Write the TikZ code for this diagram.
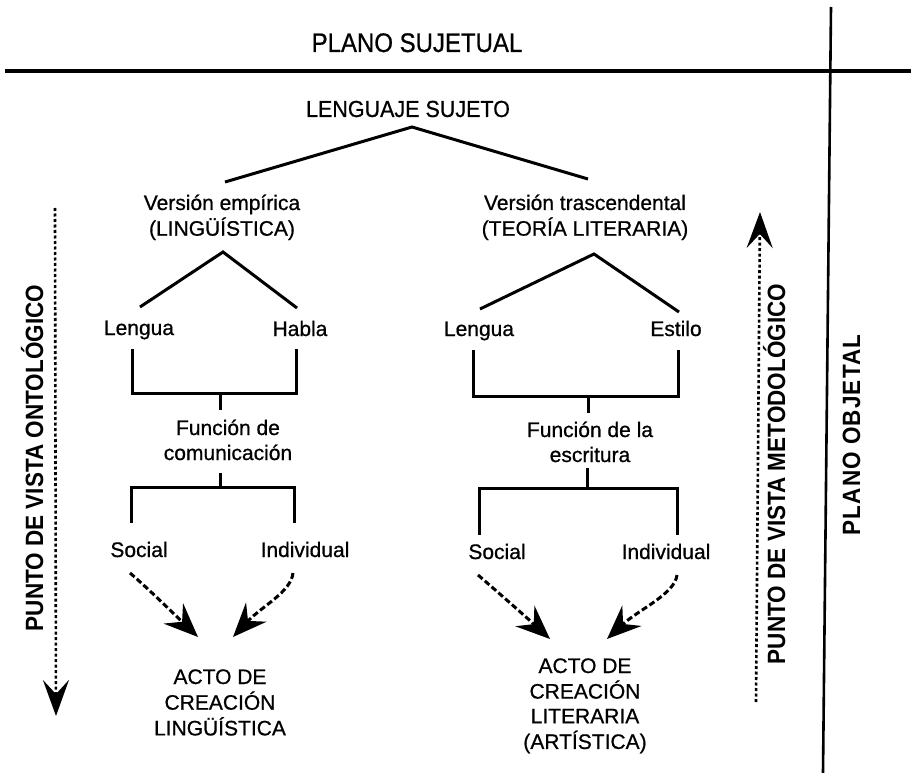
\documentclass[tikz,border=0pt]{standalone}
\usepackage{fontspec}
\setmainfont{Liberation Sans}
\newfontfamily\heavyfont{Liberation Sans}[FakeBold=0.7]
\usetikzlibrary{arrows.meta}
\newcommand{\mlines}[1]{\begin{tabular}[t]{@{}c@{}}#1\end{tabular}}
\begin{document}
\begin{tikzpicture}[x=1pt,y=-1pt,
  txt/.style={font=\heavyfont\fontsize{21}{25}\selectfont, inner sep=0pt, anchor=base},
  title/.style={font=\heavyfont\fontsize{24}{28}\selectfont, inner sep=0pt, anchor=base},
  vtxt/.style={font=\bfseries\fontsize{25}{29}\selectfont, inner sep=0pt, anchor=base, rotate=90},
  rule/.style={line width=3.2pt},
  tree/.style={line width=3pt},
  flow/.style={line width=3pt, dash pattern=on 6pt off 3pt, -{Stealth[length=34pt,width=28pt,inset=12pt]}},
  axis/.style={line width=2.6pt, dash pattern=on 3pt off 2.5pt, -{Stealth[length=36pt,width=26pt,inset=14pt]}}
]
\fill[white] (0,0) rectangle (911,773);
\useasboundingbox (0,0) rectangle (911,773);

% frame rules
\coordinate (hl) at (5,71);
\coordinate (hr) at (911,71);
\coordinate (vtop) at (831,7);
\coordinate (vbot) at (823,773);
\draw[rule] (hl) -- (hr);
\draw[rule, line width=2.6pt] (vtop) -- (vbot);

% texts
\node[title] (ps) at (417,52) {\scalebox{1}[1.12]{PLANO SUJETUAL}};
\node[txt, font=\heavyfont\fontsize{21.5}{25}\selectfont] (ls) at (408,117) {\scalebox{1}[1.08]{LENGUAJE SUJETO}};
\node[txt] (ve) at (222,210) {\mlines{Versión empírica\\(LINGÜÍSTICA)}};
\node[txt] (vt) at (585,210) {\mlines{Versión trascendental\\(TEORÍA LITERARIA)}};
\node[txt] (lenL) at (139,335) {Lengua};
\node[txt] (hab) at (300,336) {Habla};
\node[txt] (lenR) at (479,336) {Lengua};
\node[txt] (est) at (676,336) {Estilo};
\node[txt] (fc) at (228,435) {\mlines{Función de\\comunicación}};
\node[txt] (fe) at (590,437) {\mlines{Función de la\\escritura}};
\node[txt] (socL) at (139,557) {Social};
\node[txt] (indL) at (305,557) {Individual};
\node[txt] (socR) at (497,559) {Social};
\node[txt] (indR) at (666,559) {Individual};
\node[txt] (actL) at (220,684) {\mlines{ACTO DE\\CREACIÓN\\LINGÜÍSTICA}};
\node[txt, font=\heavyfont\fontsize{21}{24.7}\selectfont] (actR) at (585,673) {\mlines{ACTO DE\\CREACIÓN\\LITERARIA\\(ARTÍSTICA)}};

\node[vtxt] (onto) at (43,458) {\scalebox{0.9}[1]{PUNTO DE VISTA ONTOLÓGICO}};
\node[vtxt] (meto) at (785,474) {\scalebox{0.9}[1]{PUNTO DE VISTA METODOLÓGICO}};
\node[vtxt] (pobj) at (860,435) {\scalebox{0.9}[1]{\addfontfeature{LetterSpace=5}PLANO OBJETAL}};

% top tree
\coordinate (a1) at (412,127);
\coordinate (a1l) at (225,182);
\coordinate (a1r) at (588,179);
\draw[tree] (a1l) -- (a1) -- (a1r);

% second level trees
\coordinate (a2) at (223,252);
\coordinate (a2l) at (140,307);
\coordinate (a2r) at (297,308);
\draw[tree] (a2l) -- (a2) -- (a2r);
\coordinate (a3) at (594,254);
\coordinate (a3l) at (480,309);
\coordinate (a3r) at (679,312);
\draw[tree] (a3l) -- (a3) -- (a3r);

% brackets left
\coordinate (b1l) at (132,349);
\coordinate (b1r) at (296,349);
\coordinate (b1m) at (220,393);
\coordinate (b1s) at (220,410);
\draw[tree] (b1l) -- (132,393) -- (296,393) -- (b1r);
\draw[tree] (b1m) -- (b1s);
\coordinate (b2s) at (220,473);
\coordinate (b2m) at (220,487);
\coordinate (b2l) at (131,523);
\coordinate (b2r) at (294,523);
\draw[tree] (b2s) -- (b2m);
\draw[tree] (b2l) -- (131,487) -- (294,487) -- (b2r);

% brackets right
\coordinate (c1l) at (473,350);
\coordinate (c1r) at (678,350);
\coordinate (c1m) at (588,396);
\coordinate (c1s) at (588,413);
\draw[tree] (c1l) -- (473,396) -- (678,396) -- (c1r);
\draw[tree] (c1m) -- (c1s);
\coordinate (c2s) at (587,468);
\coordinate (c2m) at (587,488);
\coordinate (c2l) at (479,535);
\coordinate (c2r) at (677,535);
\draw[tree] (c2s) -- (c2m);
\draw[tree] (c2l) -- (479,488) -- (677,488) -- (c2r);

% dashed arrows
\coordinate (s1) at (130,573); \coordinate (t1) at (198,637);
\coordinate (s2) at (293,573); \coordinate (t2) at (233,637);
\coordinate (s3) at (478,575); \coordinate (t3) at (550,639);
\coordinate (s4) at (677,575); \coordinate (t4) at (607,639);
\draw[flow] (s1) .. controls (152,592) and (175,615) .. (t1);
\draw[flow] (s2) .. controls (291,592) and (262,606) .. (t2);
\draw[flow] (s3) .. controls (500,594) and (525,616) .. (t3);
\draw[flow] (s4) .. controls (675,594) and (638,610) .. (t4);

% dotted axes
\coordinate (o1) at (55,208); \coordinate (o2) at (56,716);
\coordinate (m1) at (756,702); \coordinate (m2) at (760,212);
\draw[axis] (o1) -- (o2);
\draw[axis] (m1) -- (m2);
\end{tikzpicture}
\end{document}
